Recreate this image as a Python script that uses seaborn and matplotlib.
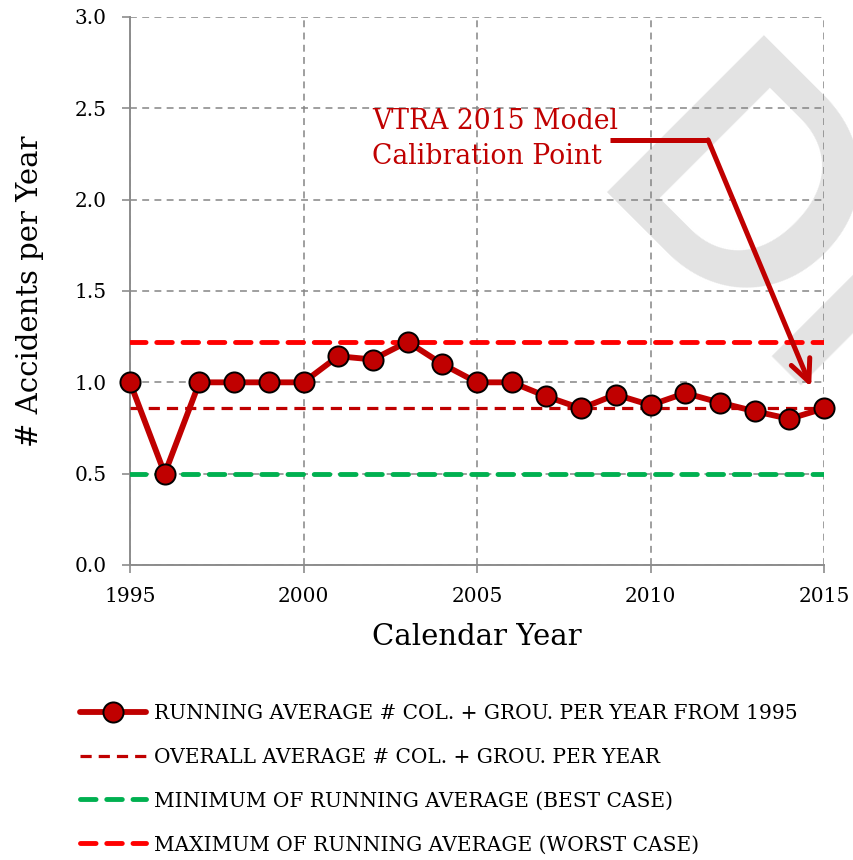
import numpy as np
import pandas as pd
import matplotlib
matplotlib.use("Agg")
import matplotlib.pyplot as plt
import seaborn as sns

years = list(range(1995, 2016))
running_avg = [1.0, 0.5, 1.0, 1.0, 1.0, 1.0, 1.143, 1.125, 1.222, 1.10, 1.0,
               1.0, 0.923, 0.857, 0.933, 0.875, 0.941, 0.889, 0.842, 0.80, 0.857]
overall_avg = 0.857
min_running = 0.5
max_running = 1.222

x_ticks = [1995, 2000, 2005, 2010, 2015]
y_ticks = [0.0, 0.5, 1.0, 1.5, 2.0, 2.5, 3.0]

labels = ["RUNNING AVERAGE # COL. + GROU. PER YEAR FROM 1995",
          "OVERALL AVERAGE # COL. + GROU. PER YEAR",
          "MINIMUM OF RUNNING AVERAGE (BEST CASE)",
          "MAXIMUM OF RUNNING AVERAGE (WORST CASE)"]

sns.set_theme(style="white")
plt.rcParams["font.family"] = ["DejaVu Serif"]
plt.rcParams["text.color"] = "black"

W, H = 854, 860
fig = plt.figure(figsize=(W / 100, H / 100), dpi=100)
ax = fig.add_axes([130 / W, 1 - 565 / H, (824 - 130) / W, (565 - 17) / H])
ax.patch.set_alpha(0)

# watermark
fig.text(581 / W, 1 - 192 / H, "DRAFT", rotation=-45, rotation_mode="anchor",
         ha="left", va="baseline", fontsize=221, color="#e3e3e3",
         family="Lato", weight="bold", zorder=-5)

df = pd.DataFrame({"year": years, "avg": running_avg})

dark_red = "#c00000"
ax.plot([years[0], years[-1]], [overall_avg] * 2, color=dark_red, lw=2.3,
        dashes=(3.5, 2.2), label=labels[1], zorder=3)
ax.plot([years[0], years[-1]], [min_running] * 2, color="#00b050", lw=3.5,
        dashes=(3.2, 2.2), dash_capstyle="round", label=labels[2], zorder=3)
ax.plot([years[0], years[-1]], [max_running] * 2, color="#ff0000", lw=3.5,
        dashes=(3.2, 2.2), dash_capstyle="round", label=labels[3], zorder=3)
sns.lineplot(data=df, x="year", y="avg", ax=ax, color=dark_red, lw=4.2,
             marker="o", markersize=14.5, markerfacecolor=dark_red,
             markeredgecolor="black", markeredgewidth=1.4, clip_on=False,
             label=labels[0], zorder=5)

ax.set_xlim(years[0], years[-1])
ax.set_ylim(0, 3.0)
ax.set_xticks(x_ticks)
ax.set_yticks(y_ticks)
ax.set_yticklabels([f"{v:.1f}" for v in y_ticks])
ax.grid(True, color="#858585", lw=1.1, dashes=(4.5, 3.5))
ax.set_axisbelow(True)
for s in ["top", "right"]:
    ax.spines[s].set_visible(False)
for s in ["left", "bottom"]:
    ax.spines[s].set_color("#8c8c8c")
    ax.spines[s].set_linewidth(1.4)
ax.tick_params(axis="both", which="major", direction="out", length=6, width=1.2,
               color="#8c8c8c", labelsize=14.5, labelcolor="black",
               left=True, bottom=True)
ax.tick_params(axis="x", pad=10)
ax.tick_params(axis="y", pad=11)
ax.set_xlabel("Calendar Year", fontsize=21, color="black", labelpad=12)
ax.set_ylabel("# Accidents per Year", fontsize=21, color="black", labelpad=22)

# annotation
ax.text(2001.97, 2.332, "VTRA 2015 Model\nCalibration Point", color=dark_red,
        fontsize=19.2, ha="left", va="center", linespacing=1.4)
ax.plot([2008.83, 2011.66], [2.327, 2.327], color=dark_red, lw=3.6,
        solid_capstyle="butt", clip_on=False)
ax.annotate("", xy=(2014.63, 0.974), xytext=(2011.66, 2.327),
            arrowprops=dict(arrowstyle="->,head_length=1.3,head_width=0.6",
                            color=dark_red, lw=3.6, shrinkA=0, shrinkB=0),
            annotation_clip=False)

# legend
handles, labs = ax.get_legend_handles_labels()
order = [labs.index(l) for l in labels]
if ax.legend_:
    ax.legend_.remove()
leg = fig.legend([handles[i] for i in order], [labs[i] for i in order],
                 loc="upper left", bbox_to_anchor=(80 / W, 1 - 704 / H), frameon=False,
                 fontsize=14.5, handlelength=3.3, handletextpad=0.35, labelspacing=1.23,
                 borderaxespad=0, borderpad=0)
for t in leg.get_texts():
    t.set_color("black")

fig.savefig("out.png", dpi=100)
